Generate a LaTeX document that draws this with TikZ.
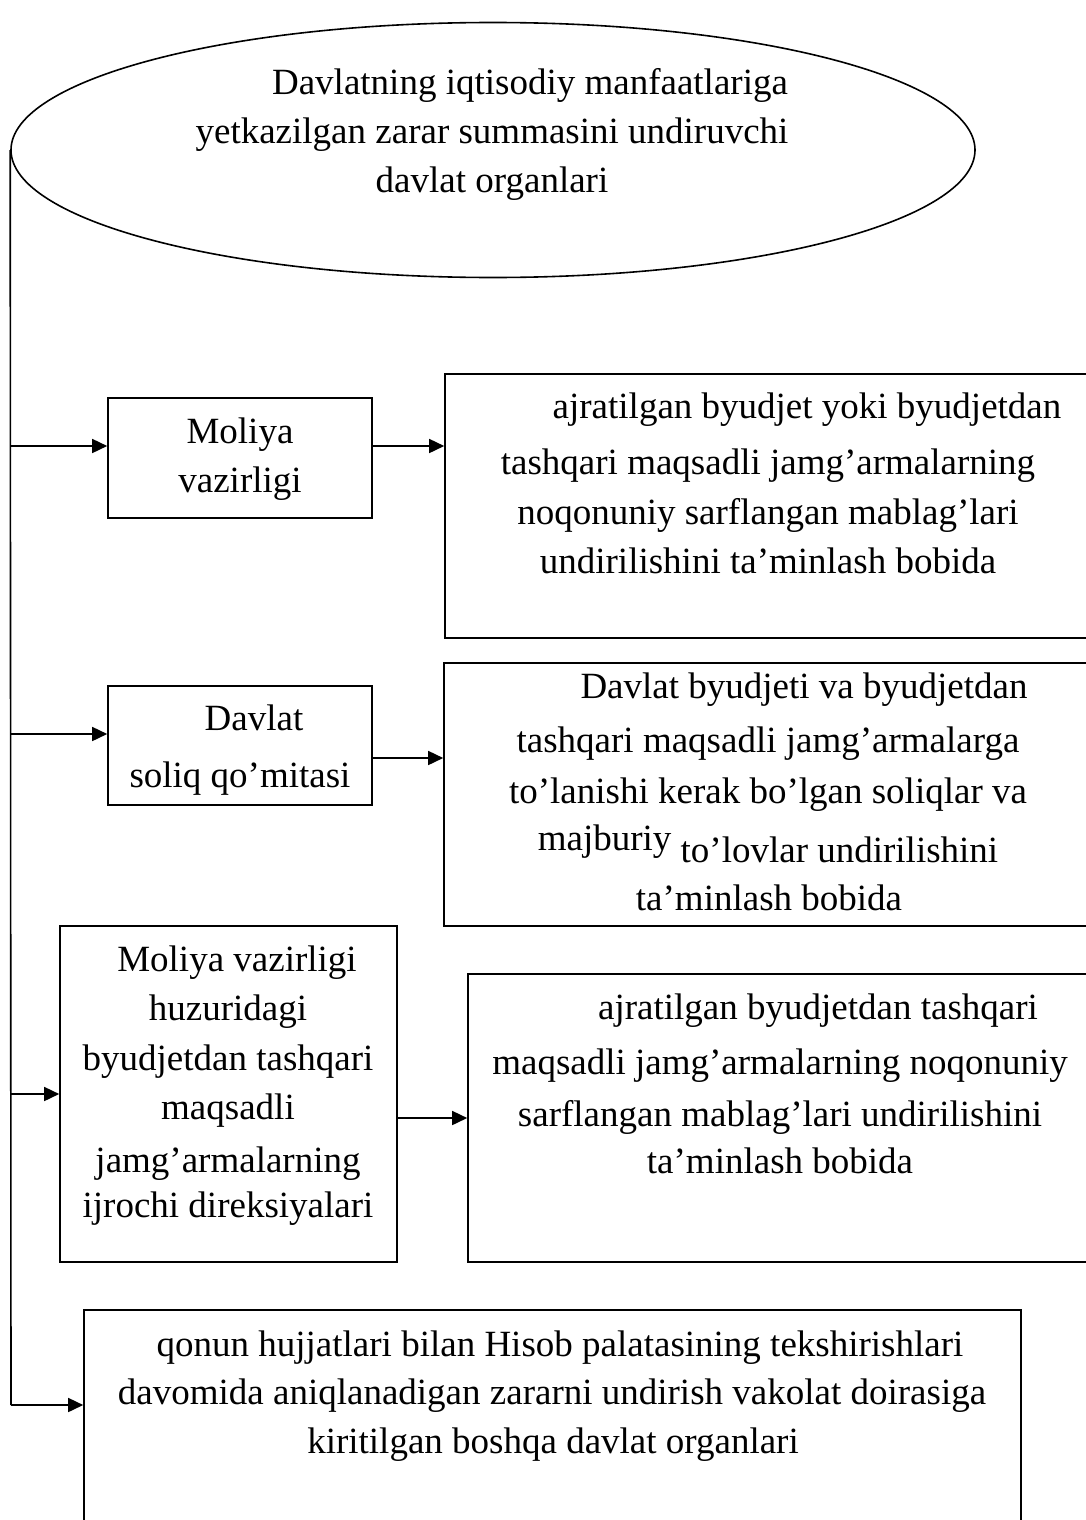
\documentclass[tikz,border=0pt]{standalone}
\usepackage{fontspec}
\setmainfont{Liberation Serif}
\usetikzlibrary{arrows.meta,shapes.geometric}
\begin{document}
\begin{tikzpicture}[x=1pt,y=-1pt,
  ln/.style={line width=1.6pt},
  arr/.style={line width=1.6pt,-{Triangle[length=15pt,width=14pt]}},
  box/.style={draw,line width=1.6pt,rectangle,inner sep=0pt},
  txt/.style={anchor=base,inner sep=0pt,font=\fontsize{37}{49}\selectfont}]
\useasboundingbox (0,0) rectangle (1085,1520);
% ellipse
\node[draw,line width=1.6pt,ellipse,inner sep=0pt,minimum width=964pt,minimum height=255pt] (ell) at (493,150) {};
\node[txt] (e1) at (530,94) {Davlatning iqtisodiy manfaatlariga};
\node[txt] (e2) at (492,143) {yetkazilgan zarar summasini undiruvchi};
\node[txt] (e3) at (492,192) {davlat organlari};
% boxes
\node[box,minimum width=264pt,minimum height=120pt] (b1) at (240,458) {};
\node[box,minimum width=650pt,minimum height=264pt] (r1) at (770,506) {};
\node[box,minimum width=264pt,minimum height=119pt] (b2) at (240,745.5) {};
\node[box,minimum width=651pt,minimum height=263pt] (r2) at (769.5,794.5) {};
\node[box,minimum width=337pt,minimum height=336pt] (b3) at (228.5,1094) {};
\node[box,minimum width=627pt,minimum height=288pt] (r3) at (781.5,1118) {};
\node[box,minimum width=937pt,minimum height=250pt] (bot) at (552.5,1435) {};
% texts
\node[txt] (b1a) at (240,443) {Moliya};
\node[txt] (b1b) at (240,492) {vazirligi};
\node[txt] (r1a) at (807,418) {ajratilgan byudjet yoki byudjetdan};
\node[txt] (r1b) at (768,474) {tashqari maqsadli jamg’armalarning};
\node[txt] (r1c) at (768,524) {noqonuniy sarflangan mablag’lari};
\node[txt] (r1d) at (768,573) {undirilishini ta’minlash bobida};
\node[txt] (b2a) at (254,730) {Davlat};
\node[txt] (b2b) at (240,787) {soliq qo’mitasi};
\node[txt] (r2a) at (804,698) {Davlat byudjeti va byudjetdan};
\node[txt] (r2b) at (768,752) {tashqari maqsadli jamg’armalarga};
\node[txt] (r2c) at (768,803) {to’lanishi kerak bo’lgan soliqlar va};
\node[txt] (r2d) at (768,862) {\raisebox{12pt}{majburiy} to’lovlar undirilishini};
\node[txt] (r2e) at (769,910) {ta’minlash bobida};
\node[txt] (b3a) at (237,971) {Moliya vazirligi};
\node[txt] (b3b) at (228,1020) {huzuridagi};
\node[txt] (b3c) at (228,1070) {byudjetdan tashqari};
\node[txt] (b3d) at (228,1119) {maqsadli};
\node[txt] (b3e) at (228,1172) {jamg’armalarning};
\node[txt] (b3f) at (228,1217) {ijrochi direksiyalari};
\node[txt] (r3a) at (818,1019) {ajratilgan byudjetdan tashqari};
\node[txt] (r3b) at (780,1074) {maqsadli jamg’armalarning noqonuniy};
\node[txt] (r3c) at (780,1126) {sarflangan mablag’lari undirilishini};
\node[txt] (r3d) at (780,1173) {ta’minlash bobida};
\node[txt] (ba) at (560,1356) {qonun hujjatlari bilan Hisob palatasining tekshirishlari};
\node[txt] (bb) at (552,1404) {davomida aniqlanadigan zararni undirish vakolat doirasiga};
\node[txt] (bc) at (553,1453) {kiritilgan boshqa davlat organlari};
% connectors
\coordinate (t1) at (11,446);
\coordinate (t2) at (11,734);
\coordinate (t3) at (11,1094);
\coordinate (t4) at (11,1405);
\coordinate (u2) at (0,758);
\coordinate (u3) at (0,1118);
\draw[ln] (ell.west) -- (t4);
\draw[arr] (t1) -- (t1 -| b1.west);
\draw[arr] (t2) -- (t2 -| b2.west);
\draw[arr] (t3) -- (t3 -| b3.west);
\draw[arr] (t4) -- (t4 -| bot.west);
\draw[arr] (b1.east |- t1) -- (r1.west |- t1);
\draw[arr] (b2.east |- u2) -- (r2.west |- u2);
\draw[arr] (b3.east |- u3) -- (r3.west |- u3);
\end{tikzpicture}
\end{document}
